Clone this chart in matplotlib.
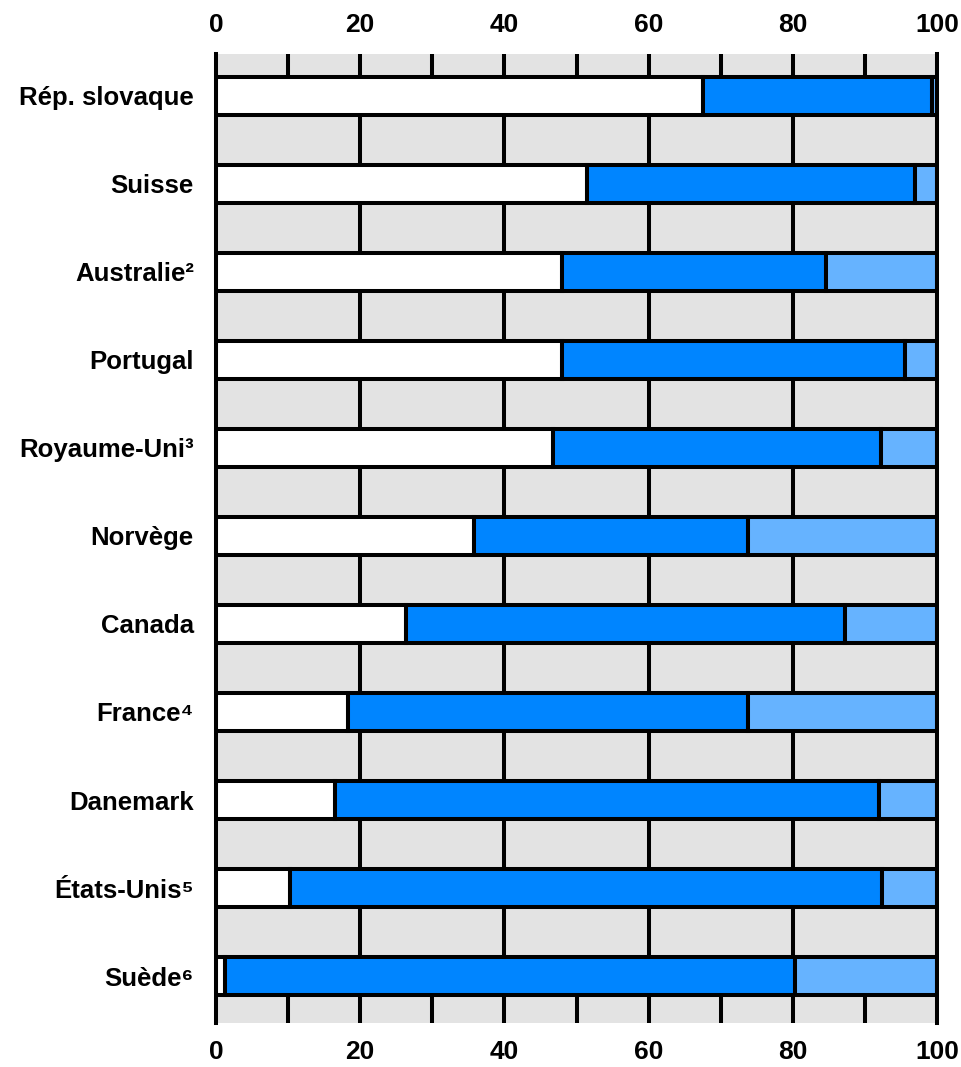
import matplotlib
matplotlib.use("Agg")
import matplotlib.pyplot as plt
import numpy as np

countries = ["Rép. slovaque", "Suisse", "Australie²", "Portugal", "Royaume-Uni³",
             "Norvège", "Canada", "France⁴", "Danemark", "États-Unis⁵", "Suède⁶"]
white_seg = [67.5, 51.5, 48.0, 48.0, 46.8, 35.8, 26.3, 18.3, 16.5, 10.2, 1.3]
blue_seg = [31.8, 45.5, 36.6, 47.6, 45.5, 38.0, 61.0, 55.5, 75.4, 82.2, 79.0]
light_seg = [0.7, 3.0, 15.4, 4.4, 7.7, 26.2, 12.7, 26.2, 8.1, 7.6, 19.7]
xticks = [0, 20, 40, 60, 80, 100]
xticks_minor = [10, 30, 50, 70, 90]

plt.rcParams['font.family'] = ['Liberation Sans', 'DejaVu Sans']

fig = plt.figure(figsize=(9.62, 10.67), dpi=100)
ax = fig.add_axes([216/962, (1067-1023)/1067, (937-216)/962, (1023-54)/1067])

grey = "#E3E3E3"
blue = "#0085FF"
lblue = "#66B3FF"
lw = 2.9
h = 0.43

ax.set_facecolor(grey)
y = np.arange(len(countries))
ylim_top, ylim_bot = -0.477, len(countries) - 1 + 0.534
ax.set_ylim(ylim_bot, ylim_top)
ax.set_xlim(0, 100)

# major grid lines full height
ax.vlines(xticks[1:-1], ylim_bot, ylim_top, color="black", lw=lw, zorder=1)
# minor lines in top and bottom bands
ax.vlines(xticks_minor, ylim_top, y[0] - h/2, color="black", lw=lw, zorder=1)
ax.vlines(xticks_minor, y[-1] + h/2, ylim_bot, color="black", lw=lw, zorder=1)

left = np.zeros(len(countries))
for vals, col in [(white_seg, "white"), (blue_seg, blue), (light_seg, lblue)]:
    ax.barh(y, vals, left=left, height=h, color=col, edgecolor="black",
            linewidth=lw, zorder=3)
    left = left + np.array(vals)

ax.set_yticks(y)
ax.set_yticklabels(countries, fontsize=18.5, fontweight='bold')
ax.set_xticks(xticks)
ax.set_xticklabels([str(t) for t in xticks], fontsize=19, fontweight='bold')
ax.tick_params(axis='x', which='both', length=0, pad=12,
               top=True, labeltop=True, bottom=True, labelbottom=True)
ax.tick_params(axis='y', length=0, pad=16)

for s in ["top", "bottom"]:
    ax.spines[s].set_visible(False)
for s in ["left", "right"]:
    ax.spines[s].set_linewidth(lw)
    ax.spines[s].set_color("black")
    ax.spines[s].set_zorder(5)

fig.savefig("out.png", dpi=100)
